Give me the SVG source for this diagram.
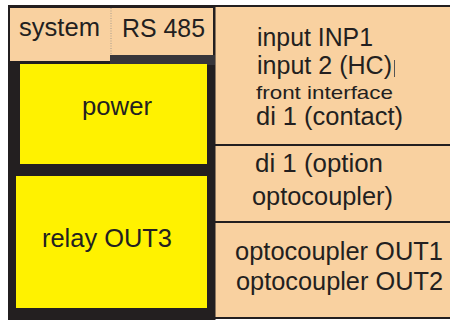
<svg xmlns="http://www.w3.org/2000/svg" width="450" height="320" viewBox="0 0 450 320">
<style>
.t{font-family:"Liberation Sans",Arial,sans-serif;font-size:25px;fill:#231f20}
.s{font-size:19px}
.peach{fill:#f9d1a0}
.yel{fill:#fff200}
.ln{stroke:#231f20;stroke-width:2;fill:none}
</style>
<rect width="450" height="320" fill="#ffffff"/>
<g id="right-panel">
<rect class="peach" x="215" y="6" width="235" height="312"/>
<line class="ln" x1="8" y1="6" x2="450" y2="6"/>
<line class="ln" x1="215" y1="145" x2="450" y2="145"/>
<line class="ln" x1="215" y1="222" x2="450" y2="222"/>
<line class="ln" x1="215" y1="318" x2="450" y2="318"/>
<line class="ln" x1="214.5" y1="5" x2="214.5" y2="320"/>
</g>
<g id="left-frame">
<rect x="8" y="60" width="207" height="260" fill="#231f20"/>
</g>
<g id="system">
<rect class="peach" x="9" y="7" width="205" height="55" stroke="#231f20" stroke-width="2"/>
<line x1="111" y1="8" x2="111" y2="55" stroke="#888" stroke-width="0.7" stroke-dasharray="1,1.5"/>
<rect x="110" y="55" width="105" height="10" fill="#38363a"/>
<text class="t" x="19" y="36" textLength="81" lengthAdjust="spacingAndGlyphs">system</text>
<text class="t" x="122" y="37" textLength="83" lengthAdjust="spacingAndGlyphs">RS 485</text>
</g>
<g id="power">
<rect class="yel" x="20" y="64" width="187" height="100"/>
<text class="t" x="82" y="115" textLength="70" lengthAdjust="spacingAndGlyphs">power</text>
</g>
<g id="relay">
<rect class="yel" x="16" y="176" width="191" height="132"/>
<text class="t" x="42" y="247" textLength="130" lengthAdjust="spacingAndGlyphs">relay OUT3</text>
</g>
<g id="inputs">
<text class="t" x="257" y="46" textLength="116" lengthAdjust="spacingAndGlyphs">input INP1</text>
<text class="t" x="257" y="74" textLength="135" lengthAdjust="spacingAndGlyphs">input 2 (HC)</text>
<line x1="394.5" y1="60" x2="394.5" y2="77" stroke="#555" stroke-width="1"/>
<text class="t s" x="256" y="99" textLength="137" lengthAdjust="spacingAndGlyphs">front interface</text>
<text class="t" x="256" y="125" textLength="147" lengthAdjust="spacingAndGlyphs">di 1 (contact)</text>
</g>
<g id="di-option">
<text class="t" x="255" y="172" textLength="128" lengthAdjust="spacingAndGlyphs">di 1 (option</text>
<text class="t" x="252" y="205" textLength="141" lengthAdjust="spacingAndGlyphs">optocoupler)</text>
</g>
<g id="outputs">
<text class="t" x="235" y="260" textLength="208" lengthAdjust="spacingAndGlyphs">optocoupler OUT1</text>
<text class="t" x="236" y="290" textLength="207" lengthAdjust="spacingAndGlyphs">optocoupler OUT2</text>
</g>
<g id="connectors"></g>
</svg>
